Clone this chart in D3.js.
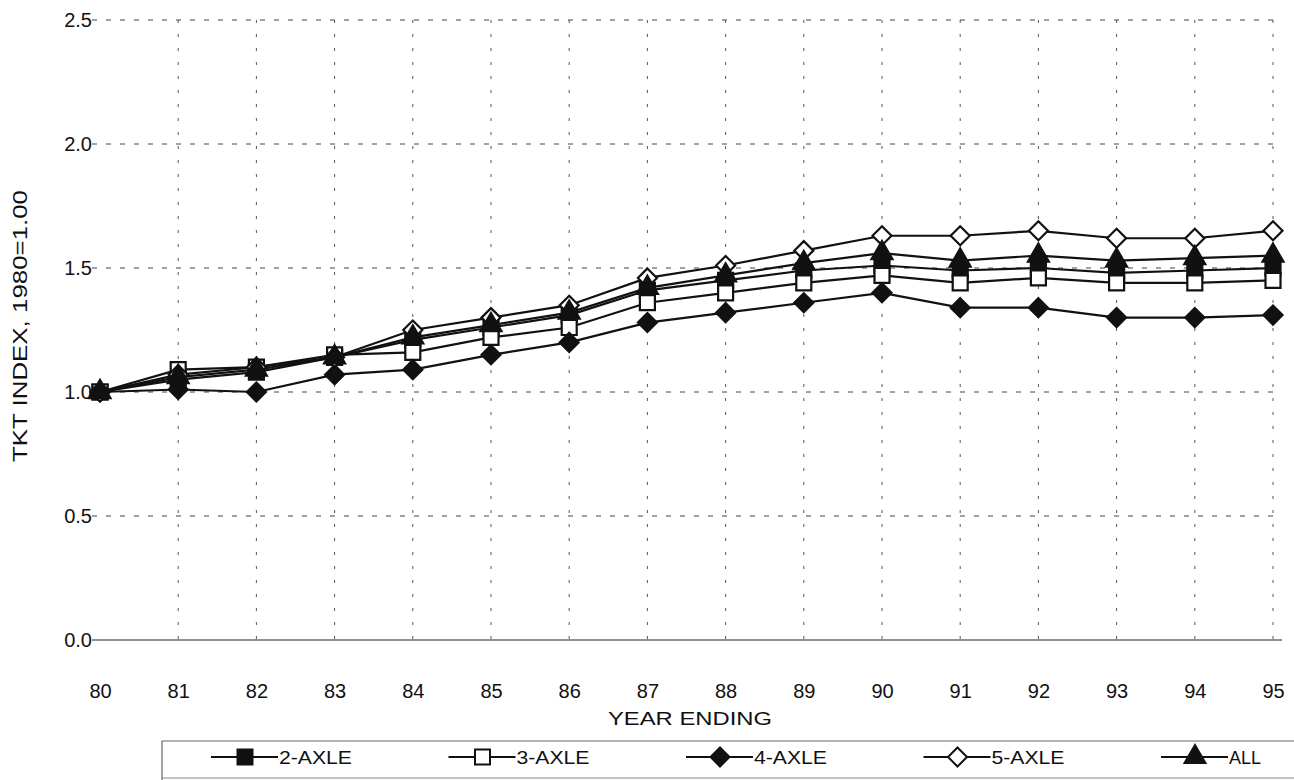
<!DOCTYPE html>
<html>
<head>
<meta charset="utf-8">
<script src="https://cdn.jsdelivr.net/npm/d3@7"></script>
<style>
  html, body { margin: 0; padding: 0; background: #fff; }
  svg { display: block; font-family: "Liberation Sans", Arial, sans-serif; }
</style>
</head>
<body>
<svg id="chart" width="1294" height="780"></svg>
<script>
const years = [80, 81, 82, 83, 84, 85, 86, 87, 88, 89, 90, 91, 92, 93, 94, 95];
const yTicks = [0.0, 0.5, 1.0, 1.5, 2.0, 2.5];
const twoAxle   = [1.00, 1.05, 1.08, 1.14, 1.21, 1.26, 1.31, 1.41, 1.45, 1.49, 1.51, 1.49, 1.50, 1.48, 1.49, 1.50];
const threeAxle = [1.00, 1.09, 1.10, 1.15, 1.16, 1.22, 1.26, 1.36, 1.40, 1.44, 1.47, 1.44, 1.46, 1.44, 1.44, 1.45];
const fourAxle  = [1.00, 1.01, 1.00, 1.07, 1.09, 1.15, 1.20, 1.28, 1.32, 1.36, 1.40, 1.34, 1.34, 1.30, 1.30, 1.31];
const fiveAxle  = [1.00, 1.07, 1.10, 1.14, 1.25, 1.30, 1.35, 1.46, 1.51, 1.57, 1.63, 1.63, 1.65, 1.62, 1.62, 1.65];
const allAxle   = [1.00, 1.06, 1.09, 1.14, 1.22, 1.27, 1.32, 1.42, 1.47, 1.52, 1.56, 1.53, 1.55, 1.53, 1.54, 1.55];
const seriesNames = ["2-AXLE", "3-AXLE", "4-AXLE", "5-AXLE", "ALL"];
const seriesValues = [twoAxle, threeAxle, fourAxle, fiveAxle, allAxle];
const seriesShapes = ["square", "square", "diamond", "diamond", "triangle"];
const seriesFilled = [true, false, true, false, true];

const svg = d3.select("#chart");
const x = d3.scaleLinear().domain([80, 95]).range([100, 1273]);
const y = d3.scaleLinear().domain([0, 2.5]).range([640, 20]);

// grid
const grid = svg.append("g");
grid.selectAll("line.h").data(yTicks.filter(d => d > 0)).join("line")
  .attr("x1", 92).attr("x2", 1282)
  .attr("y1", d => y(d)).attr("y2", d => y(d))
  .attr("stroke", "#444").attr("stroke-width", 1).attr("stroke-dasharray", "5,9");
grid.selectAll("line.v").data(years.slice(1)).join("line")
  .attr("x1", d => x(d)).attr("x2", d => x(d))
  .attr("y1", y(2.5)).attr("y2", y(0))
  .attr("stroke", "#555").attr("stroke-width", 1).attr("stroke-dasharray", "3,11");

// x axis line
svg.append("line").attr("x1", 92).attr("x2", 1282).attr("y1", y(0)).attr("y2", y(0))
  .attr("stroke", "#222").attr("stroke-width", 1.2);

// axes (text only)
const xAxis = d3.axisBottom(x).tickValues(years).tickFormat(d3.format("d")).tickSize(0).tickPadding(44);
const gx = svg.append("g").attr("transform", `translate(0,${y(0)})`).call(xAxis);
gx.select(".domain").remove();
gx.selectAll("text").attr("font-size", 20).attr("fill", "#111").attr("font-family", "Liberation Sans, Arial, sans-serif");

const yAxis = d3.axisLeft(y).tickValues(yTicks).tickFormat(d3.format(".1f")).tickSize(0).tickPadding(8);
const gy = svg.append("g").attr("transform", `translate(100,0)`).call(yAxis);
gy.select(".domain").remove();
gy.selectAll("text").attr("font-size", 20).attr("fill", "#111").attr("font-family", "Liberation Sans, Arial, sans-serif");

// axis titles
svg.append("text").attr("x", 690).attr("y", 725).attr("text-anchor", "middle")
  .attr("font-size", 19).attr("fill", "#111").attr("textLength", 164).attr("lengthAdjust", "spacingAndGlyphs")
  .text("YEAR ENDING");
svg.append("text").attr("transform", "translate(27,326) rotate(-90)").attr("text-anchor", "middle")
  .attr("font-size", 20).attr("fill", "#111").attr("textLength", 272).attr("lengthAdjust", "spacingAndGlyphs")
  .text("TKT INDEX, 1980=1.00");

// marker symbol helper
function symbolPath(shape) {
  if (shape === "square") return d3.symbol().type(d3.symbolSquare).size(225)();
  if (shape === "diamond") { const r = 9.5; return `M0,${-r}L${r},0L0,${r}L${-r},0Z`; }
  return d3.symbol().type(d3.symbolTriangle).size(190)();
}

const line = d3.line().x((d, i) => x(years[i])).y(d => y(d));
const plot = svg.append("g");
seriesValues.forEach((vals, si) => {
  plot.append("path").attr("d", line(vals)).attr("fill", "none")
    .attr("stroke", "#111").attr("stroke-width", 2.2);
});
seriesValues.forEach((vals, si) => {
  plot.append("g").selectAll("path").data(vals).join("path")
    .attr("transform", (d, i) => `translate(${x(years[i])},${y(d)})`)
    .attr("d", symbolPath(seriesShapes[si]))
    .attr("fill", seriesFilled[si] ? "#111" : "#fff")
    .attr("stroke", "#111").attr("stroke-width", 2.2);
});

// legend
const lg = svg.append("g");
lg.append("path").attr("d", "M1294,741 H162 V780")
  .attr("fill", "none").attr("stroke", "#666").attr("stroke-width", 1.2);
lg.append("line").attr("x1", 162).attr("x2", 1294).attr("y1", 778).attr("y2", 778)
  .attr("stroke", "#888").attr("stroke-width", 1);
const legendX = d3.scalePoint().domain(seriesNames).range([245, 1195]);
const legendY = 757;
seriesNames.forEach((name, si) => {
  const cx = legendX(name);
  lg.append("line").attr("x1", cx - 34).attr("x2", cx + 33).attr("y1", legendY).attr("y2", legendY)
    .attr("stroke", "#111").attr("stroke-width", 2);
  lg.append("path").attr("transform", `translate(${cx},${legendY})`)
    .attr("d", symbolPath(seriesShapes[si]))
    .attr("fill", seriesFilled[si] ? "#111" : "#fff")
    .attr("stroke", "#111").attr("stroke-width", 2);
  const t = lg.append("text").attr("x", cx + 34).attr("y", legendY + 6.5)
    .attr("font-size", 18).attr("fill", "#111").text(name);
  if (name !== "ALL") t.attr("textLength", 73).attr("lengthAdjust", "spacingAndGlyphs");
});
</script>
</body>
</html>
